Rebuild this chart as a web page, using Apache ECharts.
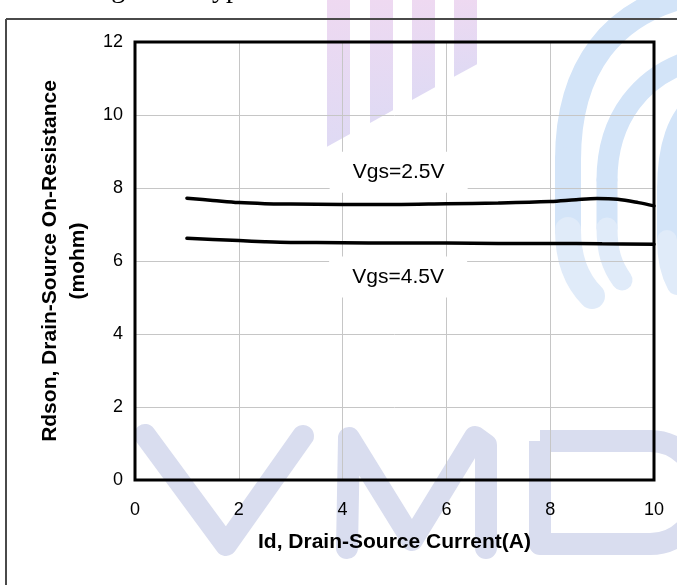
<!DOCTYPE html>
<html>
<head>
<meta charset="utf-8">
<script src="https://cdn.jsdelivr.net/npm/echarts@6/dist/echarts.min.js"></script>
<style>
  html, body { margin: 0; padding: 0; background: #fff; }
  #chart { width: 677px; height: 585px; }
</style>
</head>
<body>
<div id="chart"></div>
<script>
// Drain current (A) sample points and Rdson (mohm) for each gate drive
const currentA = [1, 1.5, 2, 2.5, 3, 4, 5, 6, 7, 8, 8.5, 8.9, 9.3, 9.7, 10];
const rdsonVgs25 = [7.72, 7.66, 7.60, 7.57, 7.56, 7.55, 7.55, 7.57, 7.59, 7.63, 7.68, 7.71, 7.69, 7.60, 7.51];
const currentB = [1, 1.5, 2, 2.5, 3, 4, 5, 6, 7, 8, 9, 10];
const rdsonVgs45 = [6.62, 6.59, 6.56, 6.53, 6.51, 6.50, 6.49, 6.49, 6.48, 6.48, 6.47, 6.46];
const curveNames = ['Vgs=2.5V', 'Vgs=4.5V'];
const xRange = [0, 10];
const yRange = [0, 12];
const tickStep = 2;

const FONT = 'Liberation Sans, Arial, sans-serif';
const chart = echarts.init(document.getElementById('chart'));

const pair = (xs, ys) => xs.map((x, i) => [x, ys[i]]);

// Company logo watermark, kept underneath the grid and curves
const LOGO_Z = -20;
const markColor = '#d9ddef';
const barFill = new echarts.graphic.LinearGradient(0, 0, 0, 1, [
  { offset: 0, color: '#efd9f1' },
  { offset: 1, color: '#dfdaf4' }
]);
const arcColor = '#d3e4f8';
const bars = [[327, 350], [370, 393], [412, 435], [454, 477]];
const bottomAt = x => 123 - 0.55 * (x - 370);
const watermark = [];
bars.forEach(([l, r]) => {
  watermark.push({
    type: 'polygon', silent: true, z: LOGO_Z,
    shape: { points: [[l, -5], [r, -5], [r, bottomAt(r)], [l, bottomAt(l)]] },
    style: { fill: barFill }
  });
});
// Three curved bands: upper curve, straight run, lower hook
[
  { top: [700, -8, 610, 8, 568, 70, 568, 160], run: 230, hook: [568, 262, 578, 282, 592, 296], w: 26 },
  { top: [700, 58, 640, 73, 607, 120, 607, 180], run: 228, hook: [607, 252, 612, 266, 622, 280], w: 21 },
  { top: [705, 95, 675, 115, 667, 150, 667, 190], run: 240, hook: [667, 258, 670, 272, 677, 285], w: 20 }
].forEach(a => {
  const st = { fill: null, stroke: arcColor, lineWidth: a.w, lineCap: 'round' };
  const t = a.top;
  watermark.push({
    type: 'bezierCurve', silent: true, z: LOGO_Z,
    shape: { x1: t[0], y1: t[1], cpx1: t[2], cpy1: t[3], cpx2: t[4], cpy2: t[5], x2: t[6], y2: t[7] },
    style: st
  });
  watermark.push({
    type: 'line', silent: true, z: LOGO_Z,
    shape: { x1: t[6], y1: t[7], x2: t[6], y2: a.run },
    style: st
  });
  const h = a.hook;
  watermark.push({
    type: 'bezierCurve', silent: true, z: LOGO_Z,
    shape: { x1: t[6], y1: a.run, cpx1: h[0], cpy1: h[1], cpx2: h[2], cpy2: h[3], x2: h[4], y2: h[5] },
    style: { fill: null, stroke: '#e0ebf9', lineWidth: a.w, lineCap: 'round' }
  });
});
// V, M, D letter strokes
watermark.push({
  type: 'polyline', silent: true, z: LOGO_Z,
  shape: { points: [[145, 435], [226, 545], [303, 436]] },
  style: { fill: null, stroke: markColor, lineWidth: 22, lineCap: 'round', lineJoin: 'round' }
});
watermark.push({
  type: 'polyline', silent: true, z: LOGO_Z,
  shape: { points: [[347, 548], [349, 438], [412, 540], [475, 437], [486, 445], [486, 548]] },
  style: { fill: null, stroke: markColor, lineWidth: 22, lineCap: 'round', lineJoin: 'round' }
});
watermark.push({
  type: 'rect', silent: true, z: LOGO_Z,
  shape: { x: 540, y: 441, width: 160, height: 103, r: [0, 50, 50, 0] },
  style: { fill: null, stroke: markColor, lineWidth: 22, lineJoin: 'round' }
});

// Page frame and the heading above the figure
const frame = [
  { type: 'line', silent: true, z: 10, shape: { x1: 6, y1: 19, x2: 677, y2: 19 }, style: { stroke: '#4a4a4a', lineWidth: 2 } },
  { type: 'line', silent: true, z: 10, shape: { x1: 6, y1: 19, x2: 6, y2: 585 }, style: { stroke: '#4a4a4a', lineWidth: 2 } },
  {
    type: 'text', silent: true, z: 10, x: 88, y: -10,
    style: { text: 'Figure 6: Typical Rdson vs. Id', font: '28px "Liberation Serif", "Times New Roman", serif', fill: '#000', verticalAlign: 'middle' }
  }
];

const curveLabel = (text, coord) => ({
  coord: coord,
  symbol: 'rect',
  symbolSize: [138, 41],
  itemStyle: { color: '#fff' },
  label: { show: true, position: 'inside', formatter: text, color: '#000', fontSize: 21, fontFamily: FONT }
});

const lineSeries = (name, data, labelCoord) => ({
  name: name,
  type: 'line',
  data: data,
  smooth: 0.35,
  showSymbol: false,
  symbol: 'none',
  lineStyle: { color: '#000', width: 3.5, cap: 'round' },
  z: 3,
  markPoint: { silent: true, data: [curveLabel(name, labelCoord)] }
});

chart.setOption({
  animation: false,
  backgroundColor: '#fff',
  graphic: { elements: watermark.concat(frame) },
  grid: {
    left: 135, right: 23, top: 42, bottom: 105, z: 2,
    show: true, borderColor: '#000', borderWidth: 3, backgroundColor: 'transparent'
  },
  xAxis: {
    type: 'value', min: xRange[0], max: xRange[1], interval: tickStep, z: 1,
    name: 'Id, Drain-Source Current(A)',
    nameLocation: 'middle', nameGap: 52,
    nameTextStyle: { fontFamily: FONT, fontSize: 21, fontWeight: 'bold', color: '#000' },
    axisLine: { show: false }, axisTick: { show: false },
    axisLabel: { fontFamily: FONT, fontSize: 18, color: '#000', margin: 21 },
    splitLine: { show: true, showMinLine: false, showMaxLine: false, lineStyle: { color: '#c6c6c6', width: 1 } }
  },
  yAxis: {
    type: 'value', min: yRange[0], max: yRange[1], interval: tickStep, z: 1,
    name: 'Rdson, Drain-Source On-Resistance\n(mohm)',
    nameLocation: 'middle', nameGap: 39,
    nameTextStyle: { fontFamily: FONT, fontSize: 21, fontWeight: 'bold', color: '#000', lineHeight: 28 },
    axisLine: { show: false }, axisTick: { show: false },
    axisLabel: { fontFamily: FONT, fontSize: 18, color: '#000', margin: 12 },
    splitLine: { show: true, showMinLine: false, showMaxLine: false, lineStyle: { color: '#c6c6c6', width: 1 } }
  },
  series: [
    lineSeries(curveNames[0], pair(currentA, rdsonVgs25), [5.08, 8.43]),
    lineSeries(curveNames[1], pair(currentB, rdsonVgs45), [5.07, 5.56])
  ]
});
</script>
</body>
</html>
